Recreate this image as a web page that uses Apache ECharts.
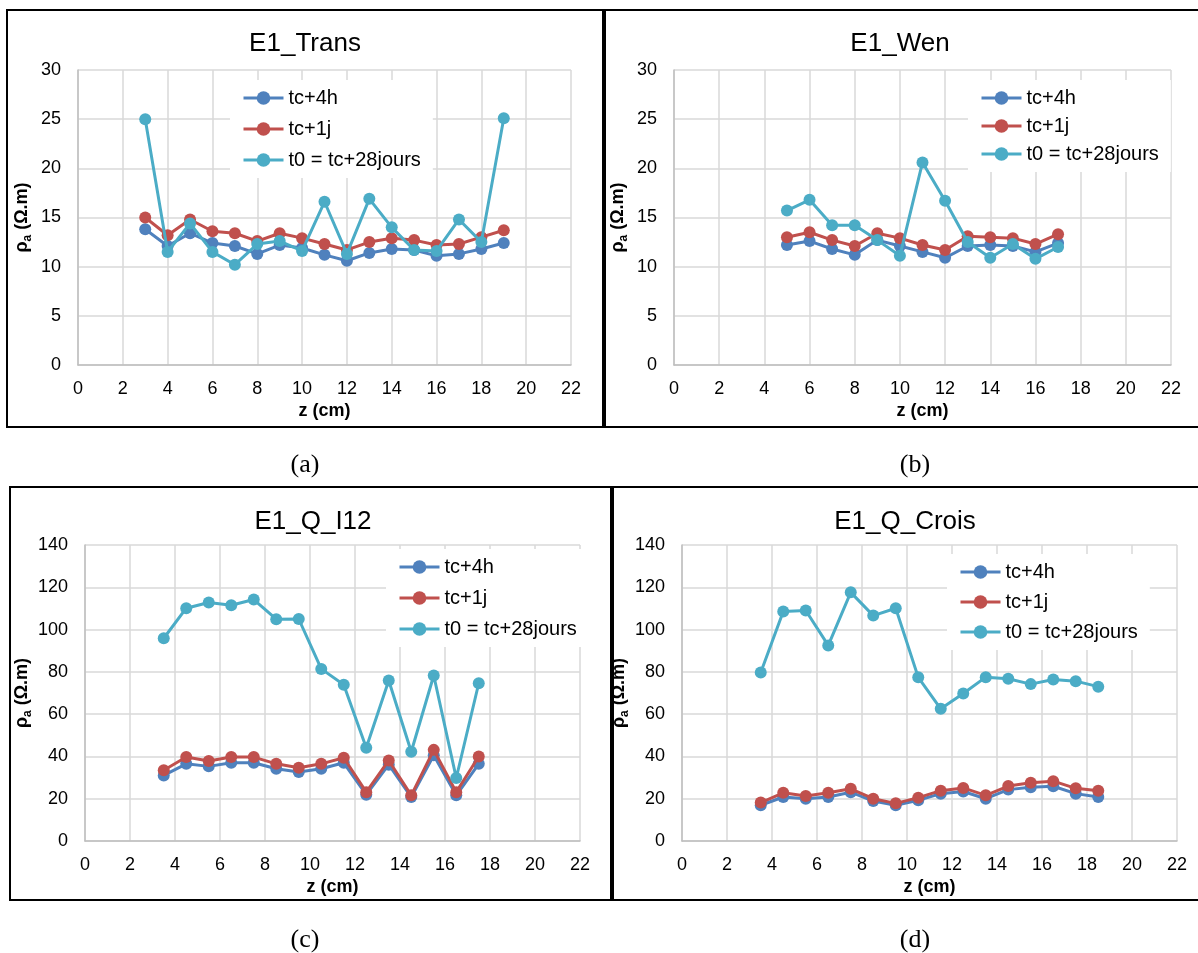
<!DOCTYPE html>
<html><head><meta charset="utf-8">
<script src="https://cdn.jsdelivr.net/npm/echarts@6/dist/echarts.min.js"></script>
<style>html,body{margin:0;padding:0;background:#fff}#c{width:1198px;height:953px}</style>
</head><body><div id="c"></div>
<script>
// ---- data ----
const seriesNames = ['tc+4h', 'tc+1j', 't0 = tc+28jours'];
const panelTitles = ['E1_Trans', 'E1_Wen', 'E1_Q_I12', 'E1_Q_Crois'];
const captions = ['(a)', '(b)', '(c)', '(d)'];
const xTicksMax = 22;

const xA = [3,4,5,6,7,8,9,10,11,12,13,14,15,16,17,18,19];
const aBlue = [13.8,12.1,13.4,12.4,12.1,11.3,12.2,11.9,11.2,10.6,11.4,11.8,11.7,11.1,11.3,11.8,12.4];
const aRed  = [15.0,13.2,14.8,13.6,13.4,12.6,13.4,12.9,12.3,11.7,12.5,12.9,12.7,12.2,12.3,13.0,13.7];
const aTeal = [25.0,11.5,14.4,11.5,10.2,12.3,12.6,11.6,16.6,11.3,16.9,14.0,11.7,11.6,14.8,12.5,25.1];

const xB = [5,6,7,8,9,10,11,12,13,14,15,16,17];
const bBlue = [12.2,12.6,11.8,11.2,12.7,12.1,11.5,10.9,12.1,12.2,12.1,11.5,12.4];
const bRed  = [13.0,13.5,12.7,12.1,13.4,12.9,12.2,11.7,13.1,13.0,12.9,12.3,13.3];
const bTeal = [15.7,16.8,14.2,14.2,12.7,11.1,20.6,16.7,12.5,10.9,12.3,10.8,12.0];

const xC = [3.5,4.5,5.5,6.5,7.5,8.5,9.5,10.5,11.5,12.5,13.5,14.5,15.5,16.5,17.5];
const cBlue = [31.0,36.5,35.3,37.0,37.0,34.2,32.6,34.2,37.0,21.9,36.1,20.8,40.5,21.6,36.5];
const cRed  = [33.5,39.7,37.8,39.7,39.7,36.5,34.6,36.5,39.4,23.1,38.1,21.6,43.1,23.1,40.0];
const cTeal = [95.9,110.1,112.8,111.5,114.2,104.9,105.0,81.4,73.9,44.1,75.9,42.2,78.3,29.8,74.6];

const xD = [3.5,4.5,5.5,6.5,7.5,8.5,9.5,10.5,11.5,12.5,13.5,14.5,15.5,16.5,17.5,18.5];
const dBlue = [16.9,20.8,20.0,20.8,23.1,18.9,16.9,19.3,22.4,23.4,20.0,24.3,25.4,25.9,22.4,20.8];
const dRed  = [18.2,22.8,21.3,22.8,24.7,20.0,17.8,20.5,23.8,25.1,21.6,26.0,27.5,28.3,24.9,23.8];
const dTeal = [79.7,108.5,109.0,92.5,117.6,106.6,110.1,77.4,62.5,69.8,77.5,76.7,74.2,76.4,75.6,73.0];

// ---- layout ----
const FONT = 'Liberation Sans, Arial, sans-serif';
const colors = ['#4f81bd', '#c0504d', '#4bacc6'];
const panels = [
  {x: xA, ys: [aBlue, aRed, aTeal], yMax: 30, yInt: 5,
   grid: {left: 78, top: 70, width: 493, height: 295},
   title: {x: 305, y: 31}, legend: {left: 230, top: 80, gap: 7},
   box: [7, 10, 596, 417], cap: {x: 305, y: 465}},
  {x: xB, ys: [bBlue, bRed, bTeal], yMax: 30, yInt: 5,
   grid: {left: 674, top: 70, width: 497, height: 295},
   title: {x: 900, y: 31}, legend: {left: 968, top: 80, gap: 4},
   box: [605, 10, 600, 417], cap: {x: 915, y: 465}},
  {x: xC, ys: [cBlue, cRed, cTeal], yMax: 140, yInt: 20,
   grid: {left: 85, top: 545, width: 495, height: 296},
   title: {x: 313, y: 509}, legend: {left: 386, top: 549, gap: 7},
   box: [10, 487, 601, 413], cap: {x: 305, y: 940}},
  {x: xD, ys: [dBlue, dRed, dTeal], yMax: 140, yInt: 20,
   grid: {left: 682, top: 545, width: 495, height: 296},
   title: {x: 905, y: 509}, legend: {left: 947, top: 554, gap: 6},
   box: [613, 487, 600, 413], cap: {x: 915, y: 940}}
];

const option = {
  animation: false,
  backgroundColor: '#fff',
  textStyle: {fontFamily: FONT},
  title: [], grid: [], xAxis: [], yAxis: [], legend: [], series: [], graphic: []
};

panels.forEach((p, i) => {
  option.title.push({
    text: panelTitles[i], left: p.title.x, top: p.title.y, textAlign: 'center', padding: 0,
    textStyle: {fontFamily: FONT, fontSize: 26, fontWeight: 'normal', color: '#000'}
  });
  option.grid.push(Object.assign({containLabel: false}, p.grid));
  option.xAxis.push({
    type: 'value', gridIndex: i, min: 0, max: xTicksMax, interval: 2,
    name: 'z (cm)', nameLocation: 'middle', nameGap: 37,
    nameTextStyle: {fontFamily: FONT, fontSize: 18, fontWeight: 'bold', color: '#000'},
    axisLine: {show: true, lineStyle: {color: '#bfbfbf', width: 1.5}},
    axisTick: {show: false},
    axisLabel: {fontFamily: FONT, fontSize: 18, color: '#000', margin: 15},
    splitLine: {show: true, lineStyle: {color: '#d9d9d9', width: 1.5}}
  });
  option.yAxis.push({
    type: 'value', gridIndex: i, min: 0, max: p.yMax, interval: p.yInt,
    name: '{r|ρ}{s|a}{r| (Ω.m)}', nameLocation: 'middle', nameRotate: 90, nameGap: 44,
    nameTextStyle: {
      rich: {
        r: {fontFamily: FONT, fontSize: 18, fontWeight: 'bold', color: '#000', lineHeight: 24},
        s: {fontFamily: FONT, fontSize: 12, fontWeight: 'bold', color: '#000', lineHeight: 24, verticalAlign: 'bottom'}
      }
    },
    axisLine: {show: true, lineStyle: {color: '#bfbfbf', width: 1.5}},
    axisTick: {show: false},
    axisLabel: {fontFamily: FONT, fontSize: 18, color: '#000', margin: 17},
    splitLine: {show: true, lineStyle: {color: '#d9d9d9', width: 1.5}}
  });
  option.legend.push({
    data: seriesNames, orient: 'vertical', left: p.legend.left, top: p.legend.top,
    padding: [6, 12, 6, 12], backgroundColor: '#fff',
    itemWidth: 40, itemHeight: 17, itemGap: p.legend.gap,
    lineStyle: {width: 3},
    textStyle: {fontFamily: FONT, fontSize: 20, color: '#000', lineHeight: 24},
    selectedMode: false
  });
  p.ys.forEach((arr, k) => {
    option.series.push({
      type: 'line', name: seriesNames[k], xAxisIndex: i, yAxisIndex: i,
      data: p.x.map((x, j) => [x, arr[j]]),
      symbol: 'circle', symbolSize: 12,
      lineStyle: {color: colors[k], width: 3},
      itemStyle: {color: colors[k]},
      z: 2 + k
    });
  });
  option.graphic.push({
    type: 'rect', shape: {x: p.box[0], y: p.box[1], width: p.box[2], height: p.box[3]},
    style: {fill: 'none', stroke: '#000', lineWidth: 2}, silent: true, z: 100
  });
  option.graphic.push({
    type: 'text', x: p.cap.x, y: p.cap.y,
    style: {text: captions[i], font: '26px "Liberation Serif", "Times New Roman", serif',
            fill: '#000', textAlign: 'center', textVerticalAlign: 'middle'},
    silent: true
  });
});

const chart = echarts.init(document.getElementById('c'), null, {renderer: 'canvas'});
chart.setOption(option);
</script></body></html>
